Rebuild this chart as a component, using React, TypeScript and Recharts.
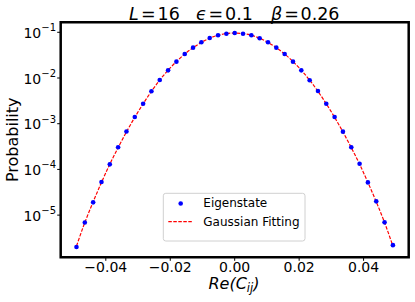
import React from "react";
import {
  ComposedChart,
  Line,
  Scatter,
  XAxis,
  YAxis,
  ReferenceArea,
} from "recharts";

// bin centres of Re(C_ij)
const xs = [
  -0.0491, -0.04651, -0.04393, -0.04134, -0.03876, -0.03618, -0.03359, -0.03101,
  -0.02842, -0.02584, -0.02326, -0.02067, -0.01809, -0.0155, -0.01292, -0.01034,
  -0.00775, -0.00517, -0.00258, 0, 0.00258, 0.00517, 0.00775, 0.01034, 0.01292,
  0.0155, 0.01809, 0.02067, 0.02326, 0.02584, 0.02842, 0.03101, 0.03359, 0.03618,
  0.03876, 0.04134, 0.04393, 0.04651, 0.0491,
];

const eigenstate = [
  2.0e-6, 6.9e-6, 1.9e-5, 5.3e-5, 1.29e-4, 3.05e-4, 6.75e-4, 1.4e-3, 2.74e-3,
  5.12e-3, 9.04e-3, 0.0147, 0.0228, 0.0335, 0.0461, 0.0604, 0.075, 0.0859, 0.0931,
  0.0966, 0.0931, 0.0859, 0.074, 0.0604, 0.0461, 0.0335, 0.0228, 0.0147, 8.9e-3,
  5.2e-3, 2.74e-3, 1.4e-3, 6.7e-4, 3.05e-4, 1.33e-4, 5.2e-5, 2.0e-5, 6.95e-6, 2.2e-6,
];

const gaussianFit = [
  2.1e-6, 6.9e-6, 1.95e-5, 5.2e-5, 1.3e-4, 3.0e-4, 6.6e-4, 1.38e-3, 2.72e-3,
  5.1e-3, 9.0e-3, 0.0148, 0.0229, 0.0335, 0.0461, 0.06, 0.0743, 0.0862, 0.0937,
  0.0963, 0.0937, 0.0862, 0.0743, 0.06, 0.0461, 0.0335, 0.0229, 0.0148, 9.0e-3,
  5.1e-3, 2.72e-3, 1.38e-3, 6.6e-4, 3.0e-4, 1.3e-4, 5.2e-5, 1.95e-5, 6.9e-6, 2.1e-6,
];

const xTicks = [-0.04, -0.02, 0, 0.02, 0.04];
const yTicks = [1e-5, 1e-4, 1e-3, 1e-2, 1e-1];

const X_MIN = -0.054;
const X_MAX = 0.054;
const Y_MIN = 1.194e-6;
const Y_MAX = 0.1663;

const FONT = "DejaVu Sans";

const data = xs.map((x, i) => ({ x, eig: eigenstate[i], fit: gaussianFit[i] }));

const fmtX = (v: number) => (v < 0 ? "\u2212" : "") + Math.abs(v).toFixed(2);

const XTick = ({ x, y, payload }: any) => (
  <text x={x} y={y} dy="0.71em" textAnchor="middle" fontSize={14} fontFamily={FONT} fill="#000">
    {fmtX(payload.value)}
  </text>
);

const YTick = ({ x, y, payload }: any) => {
  const exp = Math.round(Math.log10(payload.value));
  return (
    <text x={x} y={y + 5.5} textAnchor="end" fontSize={14} fontFamily={FONT} fill="#000">
      10
      <tspan dy={-6.5} fontSize={10}>
        {"\u2212" + Math.abs(exp)}
      </tspan>
    </text>
  );
};

const Dot = (p: any) => <circle cx={p.cx} cy={p.cy} r={2.3} fill="#0000ff" />;

export default function App() {
  return (
    <div style={{ position: "absolute", left: 0, top: 0, width: 415, height: 302, background: "#fff" }}>
      <ComposedChart
        width={415}
        height={302}
        data={data}
        margin={{ top: 22.2, right: 6.3, bottom: 14.7, left: 0 }}
      >
        <XAxis
          type="number"
          dataKey="x"
          domain={[X_MIN, X_MAX]}
          ticks={xTicks}
          allowDataOverflow
          axisLine={false}
          tickSize={3.5}
          tickMargin={0.8}
          tickLine={{ stroke: "#000" }}
          tick={<XTick />}
          height={30}
        />
        <YAxis
          type="number"
          scale="log"
          domain={[Y_MIN, Y_MAX]}
          ticks={yTicks}
          allowDataOverflow
          axisLine={false}
          tickSize={3.5}
          tickMargin={1.2}
          tickLine={{ stroke: "#000" }}
          tick={<YTick />}
          width={60.7}
        />
        <Scatter dataKey="eig" shape={<Dot />} isAnimationActive={false} />
        <Line
          type="monotone"
          dataKey="fit"
          stroke="#ff0000"
          strokeWidth={1.2}
          strokeDasharray="3.5 1.5"
          dot={false}
          activeDot={false}
          isAnimationActive={false}
        />
        <ReferenceArea
          x1={X_MIN}
          x2={X_MAX}
          y1={Y_MIN}
          y2={Y_MAX}
          fill="none"
          stroke="#000"
          strokeWidth={2.5}
        />
        <text y={19.5} fontSize={17.5} fontFamily={FONT} fill="#000">
          <tspan x={129} fontStyle="italic">L</tspan>
          <tspan x={141}>=</tspan>
          <tspan x={157.5}>16</tspan>
          <tspan x={196} fontStyle="italic">{"\u03f5"}</tspan>
          <tspan x={208.5}>=</tspan>
          <tspan x={225}>0.1</tspan>
          <tspan x={271} fontStyle="italic">{"\u03b2"}</tspan>
          <tspan x={284.2}>=</tspan>
          <tspan x={300.5}>0.26</tspan>
        </text>
        <text x={234} y={288.5} textAnchor="middle" fontSize={16} fontFamily={FONT} fontStyle="italic" fill="#000">
          Re(C
          <tspan fontSize={11.5} dy={3.5}>ij</tspan>
          <tspan dy={-3.5}>)</tspan>
        </text>
        <text
          transform="translate(18.3,139.75) rotate(-90)"
          textAnchor="middle"
          fontSize={16}
          fontFamily={FONT}
          fill="#000"
        >
          Probability
        </text>
        <g>
          <rect x={163.3} y={193.3} width={141.7} height={47.7} rx={2.5} fill="#fff" fillOpacity={0.8} stroke="#d0d0d0" strokeWidth={1} />
          <circle cx={180.7} cy={203.5} r={2.3} fill="#0000ff" />
          <text x={203.3} y={207.1} fontSize={12} fontFamily={FONT} fill="#000">Eigenstate</text>
          <line x1={168.3} x2={193.3} y1={221.7} y2={221.7} stroke="#ff0000" strokeWidth={1.2} strokeDasharray="3.5 1.5" />
          <text x={203.3} y={225.5} fontSize={12} fontFamily={FONT} fill="#000">Gaussian Fitting</text>
        </g>
      </ComposedChart>
    </div>
  );
}
